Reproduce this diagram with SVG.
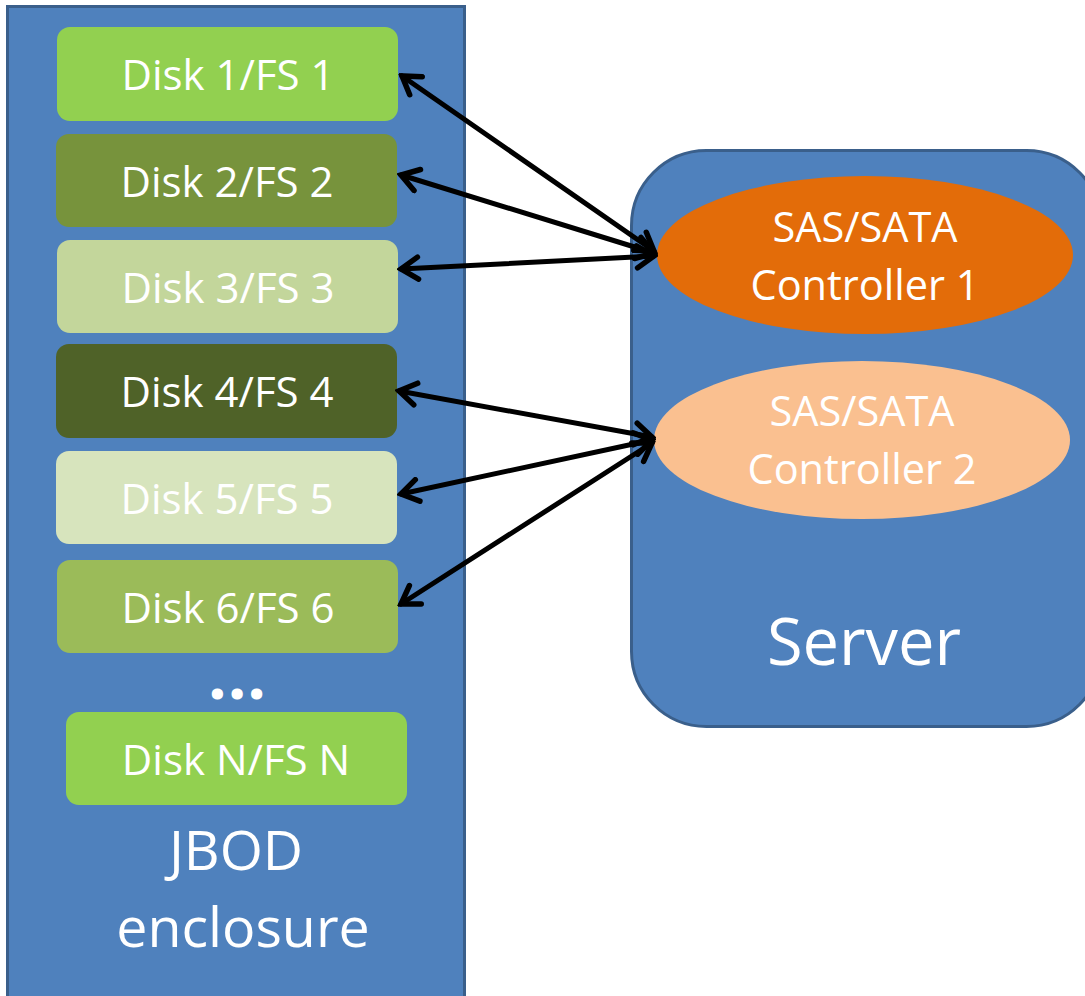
<svg xmlns="http://www.w3.org/2000/svg" width="1085" height="996" viewBox="0 0 1085 996">
  <style>
    .box { stroke: #3a5f8b; stroke-width: 3; fill: #4f81bd; }
    .disk { stroke: none; }
    .lbl { font-family: "Open Sans", "Liberation Sans", sans-serif; fill: #ffffff; text-anchor: middle; }
    .dl { font-size: 42px; }
    .cl { font-size: 41.5px; }
    .big { font-size: 55.5px; }
    .dots { font-size: 48px; font-weight: bold; letter-spacing: 6px; stroke: #ffffff; stroke-width: 3; }
    .link { stroke: #000; stroke-width: 5; fill: none; stroke-linecap: round; marker-start: url(#head); marker-end: url(#head); }
  </style>
  <defs>
    <marker id="head" markerUnits="userSpaceOnUse" viewBox="0 0 28 28" markerWidth="28" markerHeight="28" refX="24" refY="14" orient="auto-start-reverse">
      <path d="M7,3 L24,14 L7,25" fill="none" stroke="#000" stroke-width="5.5" stroke-linecap="round" stroke-linejoin="miter"/>
    </marker>
  </defs>

  <rect width="1085" height="996" fill="#ffffff"/>

  <!-- JBOD enclosure -->
  <g id="jbod">
    <rect class="box" x="7.5" y="6.5" width="457" height="1000"/>
    <text class="lbl big" x="236" y="870">JBOD</text>
    <text class="lbl big" x="243" y="947">enclosure</text>
    <text class="lbl dots" x="240" y="698">...</text>
  </g>

  <!-- Disks -->
  <g id="disk1"><rect class="disk" x="57" y="27" width="341" height="94" rx="13" fill="#92d050"/><text class="lbl dl" x="228" y="90">Disk 1/FS 1</text></g>
  <g id="disk2"><rect class="disk" x="56" y="134" width="341" height="93" rx="13" fill="#77933c"/><text class="lbl dl" x="227" y="197">Disk 2/FS 2</text></g>
  <g id="disk3"><rect class="disk" x="57" y="240" width="341" height="93" rx="13" fill="#c3d69b"/><text class="lbl dl" x="228" y="303">Disk 3/FS 3</text></g>
  <g id="disk4"><rect class="disk" x="56" y="344" width="341" height="94" rx="13" fill="#4f6228"/><text class="lbl dl" x="227" y="407">Disk 4/FS 4</text></g>
  <g id="disk5"><rect class="disk" x="56" y="451" width="341" height="93" rx="13" fill="#d7e4bd"/><text class="lbl dl" x="227" y="514">Disk 5/FS 5</text></g>
  <g id="disk6"><rect class="disk" x="57" y="560" width="341" height="93" rx="13" fill="#9bbb59"/><text class="lbl dl" x="228" y="623">Disk 6/FS 6</text></g>
  <g id="diskN"><rect class="disk" x="66" y="712" width="341" height="93" rx="13" fill="#92d050"/><text class="lbl dl" x="236" y="775">Disk N/FS N</text></g>

  <!-- Server -->
  <g id="server">
    <rect class="box" x="631.5" y="150.5" width="470" height="576" rx="75"/>
    <text class="lbl" x="864" y="665" font-size="65">Server</text>
  </g>

  <g id="ctrl1">
    <ellipse cx="865" cy="255" rx="208" ry="79" fill="#e36c09"/>
    <text class="lbl cl" x="865" y="242">SAS/SATA</text>
    <text class="lbl cl" x="865" y="300">Controller 1</text>
  </g>
  <g id="ctrl2">
    <ellipse cx="862" cy="440" rx="208" ry="79" fill="#fac090"/>
    <text class="lbl cl" x="862" y="426">SAS/SATA</text>
    <text class="lbl cl" x="862" y="484">Controller 2</text>
  </g>

  <!-- Connectors -->
  <g id="connectors">
    <line class="link" x1="402" y1="76" x2="654" y2="251"/>
    <line class="link" x1="401" y1="175" x2="654" y2="253"/>
    <line class="link" x1="401" y1="269" x2="654" y2="256"/>
    <line class="link" x1="399" y1="391" x2="652" y2="437"/>
    <line class="link" x1="401" y1="494" x2="652" y2="440"/>
    <line class="link" x1="401" y1="604" x2="652" y2="443"/>
  </g>
</svg>
